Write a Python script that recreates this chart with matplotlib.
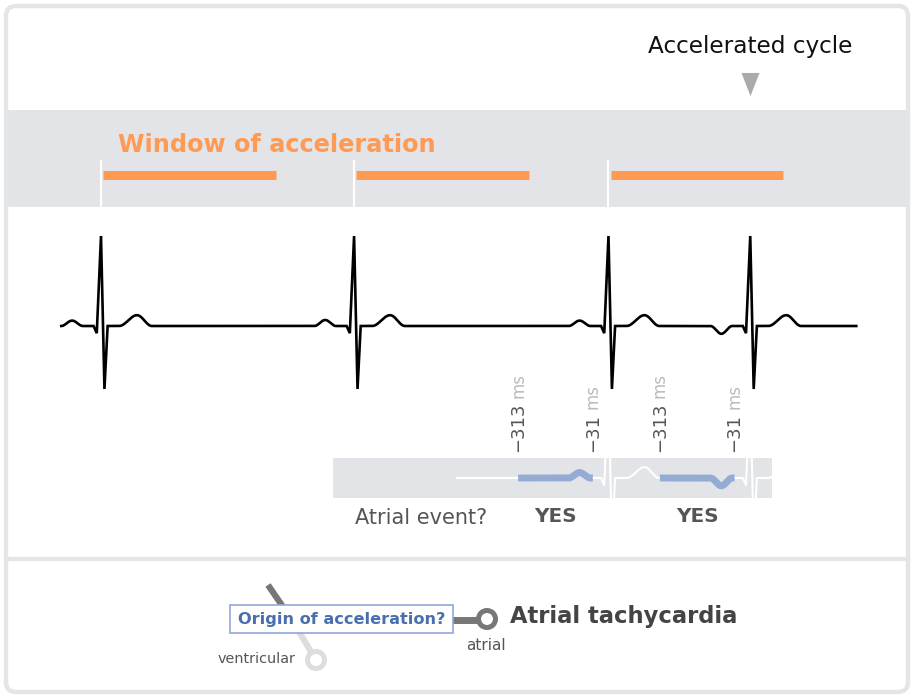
import numpy as np
import matplotlib
matplotlib.use('Agg')
import matplotlib.pyplot as plt
from matplotlib.patches import FancyBboxPatch, Rectangle, Circle

# ---- data (time in ms, first R peak at 0; amplitudes in mV) ----
r_peaks_ms = [0, 955, 1915, 2450]
p_wave_mv = [0.09, 0.10, 0.09, -0.13]     # last P is inverted
p_wave_ms = (-150, -109, -68)             # onset, peak, end (rel. to R)
t_wave_ms = (68, 136, 192)
t_wave_mv = 0.18
qrs_ms = [-28, -16, 0, 13, 25]
qrs_mv = [0.0, -0.12, 1.5, -1.05, 0.0]
trace_ms = (-150, 2850)

window_ms = (8, 660)          # window of acceleration after each R
window_beats = [0, 1, 2]
accel_beat = 3

search_ms = [-313, -31]       # atrial search window, rel. to QRS onset
search_beats = [2, 3]
search_answer = ['YES', 'YES']
inset_from_ms = 1343

# ---- layout ----
W, H = 914, 697
PX_PER_MS = 0.265
R0_PX = 101
ECG_ROW = 326
PX_PER_MV = 60
INSET = (333, 772, 458, 498)
INSET_ROW = 478

GRAY_BAND = '#e3e4e8'
ORANGE = '#ff9a55'
BLUE = '#94acd4'
DARK = '#555555'


def ms_lim(x0, x1):
    return ((x0 - R0_PX) / PX_PER_MS, (x1 - R0_PX) / PX_PER_MS)


def fig_box(x0, x1, row0, row1):
    return [x0 / W, 1 - row1 / H, (x1 - x0) / W, (row1 - row0) / H]


def bump(tt, shape, amp):
    on, pk, end = shape
    out = np.zeros_like(tt)
    up = (tt >= on) & (tt <= pk)
    dn = (tt > pk) & (tt <= end)
    out[up] = amp * (1 - np.cos(np.pi * (tt[up] - on) / (pk - on))) / 2
    out[dn] = amp * (1 + np.cos(np.pi * (tt[dn] - pk) / (end - pk))) / 2
    return out


def ecg(tt):
    v = np.zeros_like(tt)
    for r, pa in zip(r_peaks_ms, p_wave_mv):
        v += bump(tt - r, p_wave_ms, pa)
        v += bump(tt - r, t_wave_ms, t_wave_mv)
        v += np.interp(tt - r, qrs_ms, qrs_mv, left=0, right=0)
    return v


fig = plt.figure(figsize=(W / 100, H / 100), dpi=100)
fig.patch.set_facecolor('white')

# pixel axes for frame / boxes / tree
ax = fig.add_axes([0, 0, 1, 1])
ax.set_xlim(0, W)
ax.set_ylim(H, 0)
ax.axis('off')

ax.add_patch(FancyBboxPatch((6, 6), 902, 686, boxstyle='round,pad=0,rounding_size=10',
                            fc='white', ec='none', zorder=0))
ax.add_patch(Rectangle((6, 110), 902, 97, fc=GRAY_BAND, ec='none', zorder=1))
ax.plot([6, 908], [559, 559], color='#e4e5e8', lw=3, zorder=1)
ax.add_patch(FancyBboxPatch((6, 6), 902, 686, boxstyle='round,pad=0,rounding_size=10',
                            fc='none', ec='#e4e5e8', lw=3.2, zorder=2))
ax.add_patch(Rectangle((INSET[0], INSET[2]), INSET[1] - INSET[0], INSET[3] - INSET[2],
                       fc=GRAY_BAND, ec='none', zorder=1))

ax.text(118, 145, 'Window of acceleration', color=ORANGE, fontsize=17.3,
        fontweight='bold', ha='left', va='center')
ax.text(355, 518, 'Atrial event?', color=DARK, fontsize=15, ha='left', va='center')

# decision tree
ax.plot([268, 292], [585, 620], color='#777777', lw=4.5, solid_capstyle='butt', zorder=3)
ax.plot([292, 316], [620, 660], color='#dddddd', lw=4.5, solid_capstyle='butt', zorder=3)
ax.plot([400, 487], [620, 620], color='#777777', lw=5, solid_capstyle='butt', zorder=3)
ax.add_patch(Circle((316, 660), 8.5, fc='white', ec='#dddddd', lw=3.6, zorder=4))
ax.add_patch(Circle((487, 619), 8.5, fc='white', ec='#777777', lw=3.6, zorder=4))
ax.add_patch(Rectangle((230, 605), 223, 28, fc='white', ec='#8fa9d9', lw=1.2, zorder=5))
ax.text(341.5, 619.5, 'Origin of acceleration?', color='#4a6fae', fontsize=11.6,
        fontweight='bold', ha='center', va='center', zorder=6)
ax.text(295, 659, 'ventricular', color=DARK, fontsize=10.4, ha='right', va='center')
ax.text(486, 645, 'atrial', color=DARK, fontsize=11, ha='center', va='center')
ax.text(510, 617, 'Atrial tachycardia', color='#444444', fontsize=16.3,
        fontweight='bold', ha='left', va='center')

# time axes (x in ms, y in pixel rows)
axt = fig.add_axes([0, 0, 1, 1])
axt.set_xlim(*ms_lim(0, W))
axt.set_ylim(H, 0)
axt.axis('off')

for b in window_beats:
    r = r_peaks_ms[b]
    axt.plot([r + window_ms[0], r + window_ms[1]], [175, 175], color=ORANGE, lw=6.5,
             solid_capstyle='butt')
    axt.plot([r, r], [161, 207], color='white', lw=1.5)

ra = r_peaks_ms[accel_beat]
axt.text(ra, 46, 'Accelerated cycle', fontsize=16.7, color='#111111', ha='center', va='center')
axt.plot([ra], [84], marker=[(-0.39, 0.5), (0.39, 0.5), (0, -0.5)], markersize=16.6,
         color='#aaaaaa', markeredgewidth=0)

# main ECG
t = np.arange(trace_ms[0], trace_ms[1] + 1, 1.0)
v = ecg(t)
axe = fig.add_axes(fig_box(0, W, 220, 400))
axe.set_xlim(*ms_lim(0, W))
axe.set_ylim(-(400 - ECG_ROW) / PX_PER_MV, (ECG_ROW - 220) / PX_PER_MV)
axe.axis('off')
axe.plot(t, v, color='black', lw=1.9, solid_joinstyle='miter', clip_on=False)

# inset with search windows
axi = fig.add_axes(fig_box(*INSET))
axi.set_xlim(*ms_lim(INSET[0], INSET[1]))
axi.set_ylim(-(INSET[3] - INSET_ROW) / PX_PER_MV, (INSET_ROW - INSET[2]) / PX_PER_MV)
axi.axis('off')
m = t >= inset_from_ms
axi.plot(t[m], v[m], color='white', lw=1.5)

fig.canvas.draw()
renderer = fig.canvas.get_renderer()
for b, ans in zip(search_beats, search_answer):
    fid = r_peaks_ms[b] + qrs_ms[0]
    lo, hi = fid + search_ms[0], fid + search_ms[1]
    seg = (t >= lo) & (t <= hi)
    axi.plot(t[seg], v[seg], color=BLUE, lw=5, solid_capstyle='butt')
    for s in search_ms:
        x = fid + s
        num = axt.text(x, 452, '\u2212' + str(abs(s)), rotation=90, fontsize=13,
                       color=DARK, ha='center', va='bottom')
        bb = num.get_window_extent(renderer)
        row = axt.transData.inverted().transform((0, bb.y1 + 5))[1]
        axt.text(x, row, 'ms', rotation=90, fontsize=12, color='#bbbbbb',
                 ha='center', va='bottom')
    axt.text((lo + hi) / 2, 517, ans, fontsize=14.4, fontweight='bold', color=DARK,
             ha='center', va='center')

fig.savefig('out.png', dpi=100)
